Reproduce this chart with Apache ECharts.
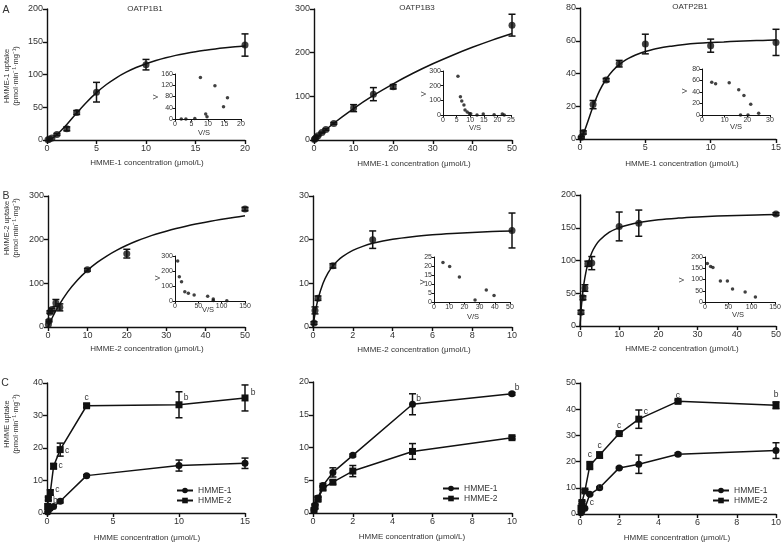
<!DOCTYPE html>
<html><head><meta charset="utf-8">
<script src="https://cdn.jsdelivr.net/npm/echarts@6/dist/echarts.min.js"></script>
<style>html,body{margin:0;padding:0;background:#fff}#c{width:784px;height:542px}</style>
</head><body><div id="c"></div><script>
// ---------- DATA ----------
// Row A: HMME-1 (OATP1B1, OATP1B3, OATP2B1)
const a1X = [0.1, 0.25, 0.5, 1, 2, 3, 5, 10, 20];
const a1Y = [0.5, 1.5, 3, 8.5, 17, 42, 73, 115, 145];
const a1Err = [0, 0, 0, 1.5, 3, 3, 15, 8, 17];
const a1FitX = [0, 0.5, 1, 2, 3, 4, 5, 6, 7, 8, 9, 10, 11, 12, 13, 14, 15, 16, 17, 18, 19, 20];
const a1FitY = [0, 2.6, 8.1, 23.7, 41.1, 57.7, 72.3, 84.7, 95, 103.5, 110.6, 116.5, 121.4, 125.6, 129.2, 132.2, 134.8, 137, 139, 140.7, 142.2, 143.5];
const a1InX = [1.9, 3.3, 6, 7.7, 9.3, 9.7, 12.1, 14.7, 15.9];
const a1InY = [0, 0, 2, 148, 18, 8, 118, 44, 76];

const a2X = [0.1, 0.25, 0.5, 1, 2, 3, 5, 10, 15, 20, 50];
const a2Y = [1, 3, 5, 10, 17, 24, 38, 73, 105, 122, 263];
const a2Err = [0, 0, 0, 1, 1, 2, 2, 8, 15, 5, 25];
const a2FitX = [0, 5, 10, 15, 20, 25, 30, 35, 40, 45, 50];
const a2FitY = [0, 38.3, 72, 102, 128.7, 152.8, 174.5, 194.2, 212.3, 228.8, 244];
const a2InX = [5.5, 6.4, 6.9, 7.7, 8.1, 8.9, 9.7, 10.2, 12.5, 14.8, 18.8, 21.8, 22.5];
const a2InY = [264, 124, 95, 68, 34, 20, 11, 9, 0, 7, 2, 7, 0];

const a3X = [0.1, 0.25, 1, 2, 3, 5, 10, 15];
const a3Y = [1, 4, 21, 36, 46, 58, 57, 59];
const a3Err = [0.5, 1, 2.5, 1, 2, 6, 4, 8];
const a3FitX = [0, 0.25, 0.5, 1, 1.5, 2, 2.5, 3, 3.5, 4, 4.5, 5, 6, 7, 8, 9, 10, 11, 12, 13, 14, 15];
const a3FitY = [0, 3.1, 8.4, 19.9, 29.5, 36.5, 41.7, 45.4, 48.3, 50.4, 52.1, 53.4, 55.4, 56.7, 57.7, 58.4, 58.9, 59.3, 59.7, 60, 60.2, 60.4];
const a3InX = [4.3, 6, 12, 16.2, 18.5, 21.5, 25, 17, 20.3];
const a3InY = [57, 54.5, 56, 44, 34, 18.5, 3, 0, 0];

// Row B: HMME-2
const b1X = [0.1, 0.25, 0.5, 1, 2, 3, 10, 20, 50];
const b1Y = [6, 14, 34, 40, 55, 45, 131, 168, 270];
const b1Err = [0, 2, 3, 3, 8, 8, 3, 10, 4];
const b1FitX = [0, 1, 2.5, 5, 7.5, 10, 12.5, 15, 17.5, 20, 22.5, 25, 27.5, 30, 32.5, 35, 37.5, 40, 42.5, 45, 47.5, 50];
const b1FitY = [0, 19.9, 45.8, 80.5, 107.8, 129.8, 148, 163.1, 176.1, 187.2, 196.8, 205.3, 212.8, 219.4, 225.4, 230.8, 235.7, 240.1, 244.2, 248, 251.4, 254.6];
const b1InX = [5.7, 9.3, 14, 21, 28.6, 41, 70, 82, 82, 111];
const b1InY = [267, 162, 129, 62, 51, 40, 31, 13, 4, 2];

const b2X = [0.05, 0.1, 0.25, 1, 3, 10];
const b2Y = [0.9, 3.8, 6.6, 14, 20, 22.1];
const b2Err = [0.3, 0.8, 0.5, 0.5, 2, 4];
const b2FitX = [0, 0.1, 0.25, 0.5, 0.75, 1, 1.25, 1.5, 2, 2.5, 3, 4, 5, 6, 7, 8, 9, 10];
const b2FitY = [0, 3.01, 6.32, 9.96, 12.33, 13.99, 15.22, 16.17, 17.54, 18.47, 19.16, 20.09, 20.69, 21.11, 21.42, 21.66, 21.85, 22];
const b2InX = [5.9, 10.3, 16.7, 27, 34.4, 39.5];
const b2InY = [21.9, 19.7, 13.9, 1.1, 6.6, 3.6];

const b3X = [0.25, 0.75, 1.25, 2, 3, 10, 15, 50];
const b3Y = [21, 43, 58, 95, 96, 152, 157, 171];
const b3Err = [3, 3, 5, 4, 10, 22, 20, 2];
const b3FitX = [0, 0.25, 0.5, 1, 1.5, 2, 3, 4, 5, 7.5, 10, 12.5, 15, 20, 25, 30, 35, 40, 45, 50];
const b3FitY = [0, 22.3, 39.6, 64.7, 82, 94.6, 111.9, 123.1, 131, 143.2, 150.2, 154.7, 157.9, 162.1, 164.7, 166.5, 167.8, 168.7, 169.5, 170.1];
const b3InX = [5, 12, 17, 33, 48, 59, 86, 108];
const b3InY = [171, 158, 153, 93, 93, 58, 44, 22];

// Row C: HMME-1 vs HMME-2
const c1X = [0.05, 0.1, 0.25, 0.5, 1, 3, 10, 15];
const c1Y1 = [0.3, 0.8, 1.5, 2, 3.6, 11.5, 14.6, 15.3];
const c1E1 = [0, 0, 0, 0, 0.5, 0.3, 1.7, 1.6];
const c1Y2 = [2, 4.4, 6.3, 14.4, 19.5, 33, 33.3, 35.4];
const c1E2 = [0, 0.5, 0.8, 0.8, 2, 0.5, 4, 4];
const c1Sig2 = ['', 'b', 'c', 'c', 'c', 'c', 'b', 'b'];

const c2X = [0.05, 0.1, 0.25, 0.5, 1, 2, 5, 10];
const c2Y1 = [0.5, 1.2, 2.3, 4.2, 6.2, 8.8, 16.6, 18.2];
const c2E1 = [0, 0, 0.3, 0.3, 0.7, 0.2, 1.6, 0.2];
const c2Y2 = [0.4, 1, 2.1, 3.8, 4.7, 6.4, 9.4, 11.5];
const c2E2 = [0, 0.3, 0.3, 0.3, 0.3, 0.85, 1.2, 0.2];
const c2Sig1 = ['', '', '', '', '', '', 'b', 'b'];

const c3X = [0.05, 0.1, 0.25, 0.5, 1, 2, 3, 5, 10];
const c3Y1 = [0.5, 1.1, 2.2, 7.5, 10, 17.6, 19, 22.8, 24.2];
const c3E1 = [0, 0, 0, 0.3, 0.3, 0.3, 3.5, 0.5, 3];
const c3Y2 = [2.2, 4.4, 8.8, 18.5, 22.5, 30.7, 36.2, 43, 41.5];
const c3E2 = [0, 0.5, 0.5, 1.5, 1.2, 0.3, 3.5, 0.5, 1.3];
const c3Sig1 = ['', '', 'c', 'c', '', '', '', '', ''];
const c3Sig2 = ['', '', '', 'c', 'c', 'c', 'c', 'c', 'b'];

const seriesNames = ['HMME-1', 'HMME-2'];
const panelTitles = ['OATP1B1', 'OATP1B3', 'OATP2B1'];

// ---------- STYLE / LAYOUT ----------
const FONT = '"Liberation Sans", Arial, sans-serif';
const INK = '#111';
const TXT = '#333';
// label offsets (px) for significance letters
const c1Sig2Off = [[0,0],[7,2],[7,-3],[7,-1],[7,1],[0,-8],[7,-7],[8,-5]];
const c2Sig1Off = [[0,0],[0,0],[0,0],[0,0],[0,0],[0,0],[6,-6],[5,-6]];
const c3Sig1Off = [[0,0],[0,0],[7,-6],[10,-8],[0,0],[0,0],[0,0],[0,0],[0,0]];
const c3Sig2Off = [[0,0],[0,0],[0,0],[0,-11],[0,-9],[0,-8],[7,-7],[0,-6],[0,-11]];

const option = {animation:false, backgroundColor:'#fff', grid:[], xAxis:[], yAxis:[], series:[], legend:[], graphic:[]};

const zip = (xs, ys) => xs.map((x, i) => [x, ys[i]]);

function axisCfg(gi, max, interval, small) {
  return {
    gridIndex: gi, type: 'value', min: 0, max: max, interval: interval,
    axisLine: {show: true, onZero: false, lineStyle: {color: INK, width: small ? 1 : 1.4}},
    axisTick: {show: true, length: small ? 2.5 : 4, lineStyle: {color: INK, width: small ? 1 : 1.4}},
    axisLabel: {show: true, fontSize: small ? 7 : 9, color: TXT, margin: small ? 2 : 4, fontFamily: FONT, hideOverlap: false},
    splitLine: {show: false}
  };
}
function addPanel(grid, xmax, xint, ymax, yint, small) {
  const gi = option.grid.length;
  option.grid.push(Object.assign({containLabel: false}, grid));
  option.xAxis.push(axisCfg(gi, xmax, xint, small));
  option.yAxis.push(axisCfg(gi, ymax, yint, small));
  return gi;
}
function fitLine(gi, xs, ys) {
  option.series.push({type: 'line', xAxisIndex: gi, yAxisIndex: gi, data: zip(xs, ys), smooth: 0.35,
    showSymbol: false, symbol: 'none', lineStyle: {color: INK, width: 1.5}, silent: true, z: 2});
}
function points(gi, xs, ys, size, symbol) {
  option.series.push({type: 'scatter', xAxisIndex: gi, yAxisIndex: gi, data: zip(xs, ys), symbol: symbol || 'circle',
    symbolSize: size, itemStyle: {color: INK}, silent: true, z: 4});
}
function errBars(gi, xs, ys, es) {
  const data = [];
  xs.forEach((x, i) => { if (es[i] > 0) data.push([x, ys[i] - es[i], ys[i] + es[i]]); });
  option.series.push({type: 'custom', xAxisIndex: gi, yAxisIndex: gi, data: data, silent: true, z: 3,
    encode: {x: 0, y: [1, 2]},
    renderItem: function (params, api) {
      const p1 = api.coord([api.value(0), api.value(1)]);
      const p2 = api.coord([api.value(0), api.value(2)]);
      const w = 3.5, st = {stroke: INK, lineWidth: 1.5};
      return {type: 'group', children: [
        {type: 'line', shape: {x1: p1[0], y1: p1[1], x2: p2[0], y2: p2[1]}, style: st},
        {type: 'line', shape: {x1: p1[0] - w, y1: p1[1], x2: p1[0] + w, y2: p1[1]}, style: st},
        {type: 'line', shape: {x1: p2[0] - w, y1: p2[1], x2: p2[0] + w, y2: p2[1]}, style: st}
      ]};
    }});
}
function cLine(gi, name, xs, ys, symbol, sig, offs) {
  const data = xs.map((x, i) => {
    const d = {value: [x, ys[i]]};
    if (sig && sig[i]) d.label = {show: true, formatter: sig[i], position: 'inside', offset: offs[i],
      color: TXT, fontSize: 8.5, fontFamily: FONT};
    return d;
  });
  option.series.push({type: 'line', name: name, xAxisIndex: gi, yAxisIndex: gi, data: data, symbol: symbol,
    symbolSize: 7, showSymbol: true, showAllSymbol: true, lineStyle: {color: INK, width: 1.5},
    itemStyle: {color: INK}, label: {show: false}, silent: true, z: 3});
}
function txt(x, y, s, size, opts) {
  option.graphic.push(Object.assign({type: 'text', x: x, y: y, silent: true,
    style: {text: s, fill: TXT, fontSize: size, fontFamily: FONT, align: 'center', verticalAlign: 'middle'}}, opts || {}));
}
function vtxt(x, y, s, size) { txt(x, y, s, size, {rotation: Math.PI / 2}); }

// ---------- Row A ----------
let g = addPanel({left: 47, top: 9, width: 198, height: 131}, 20, 5, 200, 50);
errBars(g, a1X, a1Y, a1Err); fitLine(g, a1FitX, a1FitY); points(g, a1X, a1Y, 7);
g = addPanel({left: 175, top: 74, width: 66, height: 45}, 20, 5, 160, 40, true);
points(g, a1InX, a1InY, 3.5);

g = addPanel({left: 314, top: 9, width: 198, height: 131}, 50, 10, 300, 100);
errBars(g, a2X, a2Y, a2Err); fitLine(g, a2FitX, a2FitY); points(g, a2X, a2Y, 7);
g = addPanel({left: 443, top: 71, width: 68, height: 44}, 25, 5, 300, 100, true);
points(g, a2InX, a2InY, 3.5);

g = addPanel({left: 580, top: 8, width: 197, height: 131}, 15, 5, 80, 20);
errBars(g, a3X, a3Y, a3Err); fitLine(g, a3FitX, a3FitY); points(g, a3X, a3Y, 7);
g = addPanel({left: 702, top: 69, width: 68, height: 46}, 30, 10, 80, 20, true);
points(g, a3InX, a3InY, 3.5);

// ---------- Row B ----------
g = addPanel({left: 48, top: 196, width: 197, height: 131}, 50, 10, 300, 100);
errBars(g, b1X, b1Y, b1Err); fitLine(g, b1FitX, b1FitY); points(g, b1X, b1Y, 7);
g = addPanel({left: 175, top: 256, width: 70, height: 45}, 150, 50, 300, 100, true);
points(g, b1InX, b1InY, 3.5);

g = addPanel({left: 313, top: 196, width: 199, height: 131}, 10, 2, 30, 10);
errBars(g, b2X, b2Y, b2Err); fitLine(g, b2FitX, b2FitY); points(g, b2X, b2Y, 7);
g = addPanel({left: 434, top: 257, width: 76, height: 45}, 50, 10, 25, 5, true);
points(g, b2InX, b2InY, 3.5);

g = addPanel({left: 580, top: 195, width: 197, height: 131}, 50, 10, 200, 50);
errBars(g, b3X, b3Y, b3Err); fitLine(g, b3FitX, b3FitY); points(g, b3X, b3Y, 7);
g = addPanel({left: 705, top: 257, width: 70, height: 45}, 150, 50, 200, 50, true);
points(g, b3InX, b3InY, 3.5);

// ---------- Row C ----------
g = addPanel({left: 47, top: 383, width: 198, height: 130}, 15, 5, 40, 10);
errBars(g, c1X, c1Y1, c1E1); errBars(g, c1X, c1Y2, c1E2);
cLine(g, seriesNames[0], c1X, c1Y1, 'circle');
cLine(g, seriesNames[1], c1X, c1Y2, 'rect', c1Sig2, c1Sig2Off);

g = addPanel({left: 313, top: 382, width: 199, height: 131}, 10, 2, 20, 5);
errBars(g, c2X, c2Y1, c2E1); errBars(g, c2X, c2Y2, c2E2);
cLine(g, seriesNames[0], c2X, c2Y1, 'circle', c2Sig1, c2Sig1Off);
cLine(g, seriesNames[1], c2X, c2Y2, 'rect');

g = addPanel({left: 580, top: 383, width: 198, height: 131}, 10, 2, 50, 10);
errBars(g, c3X, c3Y1, c3E1); errBars(g, c3X, c3Y2, c3E2);
cLine(g, seriesNames[0], c3X, c3Y1, 'circle', c3Sig1, c3Sig1Off);
cLine(g, seriesNames[1], c3X, c3Y2, 'rect', c3Sig2, c3Sig2Off);

const legBase = {orient: 'vertical', padding: 0, itemGap: 1, itemWidth: 16, itemHeight: 7, data: seriesNames,
  selectedMode: false, textStyle: {fontSize: 8.5, color: TXT, fontFamily: FONT}};
option.legend.push(Object.assign({left: 176, top: 486}, legBase));
option.legend.push(Object.assign({left: 442, top: 484}, legBase));
option.legend.push(Object.assign({left: 712, top: 486}, legBase));

// ---------- Texts ----------
txt(6, 10, 'A', 10.5); txt(6, 196, 'B', 10.5); txt(5, 383, 'C', 10.5);
txt(145, 9, panelTitles[0], 8); txt(417, 8, panelTitles[1], 8); txt(690, 7, panelTitles[2], 8);
const unit = '(pmol·min⁻¹·mg⁻¹)';
vtxt(7, 76, 'HMME-1 uptake', 7.5); vtxt(16, 76, unit, 7.5);
vtxt(7, 228, 'HMME-2 uptake', 7.5); vtxt(16, 228, unit, 7.5);
vtxt(7, 424, 'HMME uptake', 7.5); vtxt(16, 424, unit, 7.5);
const xt1 = 'HMME-1 concentration (μmol/L)', xt2 = 'HMME-2 concentration (μmol/L)', xt3 = 'HMME concentration (μmol/L)';
txt(147, 163, xt1, 8); txt(414, 164, xt1, 8); txt(682, 164, xt1, 8);
txt(147, 349, xt2, 8); txt(414, 350, xt2, 8); txt(682, 349, xt2, 8);
txt(147, 538, xt3, 8); txt(412, 537, xt3, 8); txt(677, 538, xt3, 8);
// inset axis names
txt(204, 133, 'V/S', 7.5); vtxt(156, 97, 'V', 7.5);
txt(475, 128, 'V/S', 7.5); vtxt(424, 94, 'V', 7.5);
txt(736, 127, 'V/S', 7.5); vtxt(685, 91, 'V', 7.5);
txt(208, 310, 'V/S', 7.5); vtxt(158, 278, 'V', 7.5);
txt(473, 317, 'V/S', 7.5); vtxt(423, 282, 'V', 7.5);
txt(738, 315, 'V/S', 7.5); vtxt(682, 280, 'V', 7.5);

const chart = echarts.init(document.getElementById('c'), null, {renderer: 'canvas'});
chart.setOption(option);
</script></body></html>
